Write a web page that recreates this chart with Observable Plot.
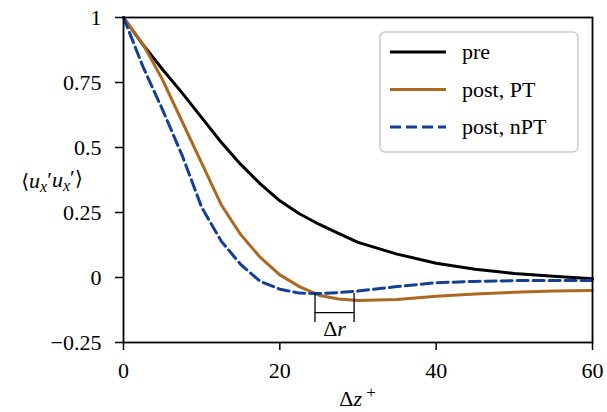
<!DOCTYPE html>
<html><head><meta charset="utf-8">
<script src="https://cdn.jsdelivr.net/npm/d3@7"></script>
<script src="https://cdn.jsdelivr.net/npm/@observablehq/plot@0.6"></script>
<style>
#chart svg text, #chart svg tspan { font-family: "Liberation Serif" !important; font-variant: normal !important; font-variant-numeric: normal !important; }
#chart svg tspan.sym { font-family: "DejaVu Sans" !important; }
</style>
</head><body style="margin:0;background:#fff;font-family:'Liberation Serif'"><div id="chart"></div>
<script>
// ---- data ----
const dz = [0,2.5,5,7.5,10,12.5,15,17.5,20,22.5,25,27.5,30,35,40,45,50,55,60];
const pre     = [1,0.895,0.80,0.71,0.615,0.52,0.435,0.36,0.295,0.245,0.205,0.17,0.135,0.09,0.055,0.032,0.015,0.005,-0.005];
const postPT  = [1,0.897,0.76,0.60,0.44,0.28,0.165,0.077,0.01,-0.035,-0.068,-0.083,-0.088,-0.085,-0.072,-0.063,-0.057,-0.052,-0.05];
const postNPT = [1,0.81,0.645,0.47,0.27,0.14,0.05,-0.015,-0.045,-0.06,-0.062,-0.058,-0.052,-0.035,-0.02,-0.015,-0.012,-0.012,-0.012];
const seriesNames = ["pre","post, PT","post, nPT"];
const seriesColors = ["#000000","#ad6820","#143f98"];
const yTicks = [-0.25,0,0.25,0.5,0.75,1];
const yTickLabels = ["\u22120.25","0","0.25","0.5","0.75","1"];
const xTicks = [0,20,40,60];
const xTickLabels = ["0","20","40","60"];
const drRange = [24.5, 29.5];   // Δr bracket in Δz+
const drY = [-0.062, -0.173, -0.135, -0.196]; // top, bottom, bar, label

const rows = [];
[pre, postPT, postNPT].forEach((arr, k) => dz.forEach((z, i) => rows.push({z, v: arr[i], series: seriesNames[k]})));

const FONT = "Liberation Serif";
const FS = 22;

const plot = Plot.plot({
  width: 607, height: 412,
  marginLeft: 123, marginRight: 15, marginTop: 17, marginBottom: 70,
  style: {fontFamily: FONT, fontSize: "22px"},
  x: {domain: [0, 60]},
  y: {domain: [-0.25, 1]},
  color: {domain: seriesNames, range: seriesColors},
  marks: [
    Plot.axisX({ticks: xTicks, tickFormat: d => xTickLabels[xTicks.indexOf(d)], tickSize: 8, tickPadding: 12, strokeWidth: 1.5, label: null, fontSize: FS, fontVariant: "normal"}),
    Plot.axisY({ticks: yTicks, tickFormat: d => yTickLabels[yTicks.indexOf(d)], tickSize: 8, tickPadding: 14, strokeWidth: 1.5, label: null, fontSize: FS, fontVariant: "normal"}),
    Plot.line(rows.filter(d => d.series === "pre"), {x: "z", y: "v", stroke: "series", strokeWidth: 3}),
    Plot.line(rows.filter(d => d.series === "post, PT"), {x: "z", y: "v", stroke: "series", strokeWidth: 3}),
    Plot.line(rows.filter(d => d.series === "post, nPT"), {x: "z", y: "v", stroke: "series", strokeWidth: 3, strokeDasharray: "11,5"}),
    Plot.ruleX(drRange, {y1: drY[0], y2: drY[1], stroke: "#000", strokeWidth: 1.3}),
    Plot.ruleY([drY[2]], {x1: drRange[0], x2: drRange[1], stroke: "#000", strokeWidth: 1.3}),
    Plot.text(["DR_LABEL"], {x: (drRange[0] + drRange[1]) / 2, y: drY[3], text: d => d, fontSize: FS, fill: "#000"}),
    Plot.frame({stroke: "#000", strokeWidth: 1.8})
  ]
});
document.getElementById("chart").appendChild(plot);

const svg = d3.select(plot);
svg.selectAll("text").attr("font-family", FONT);
svg.selectAll("text").filter(function(){ return this.textContent === "DR_LABEL"; }).each(function(){
  const t = d3.select(this); t.text("");
  t.append("tspan").text("\u0394");
  t.append("tspan").attr("font-style", "italic").text("r");
});

const W = 607, mL = 123, mR = 15;
const xl = svg.append("text").attr("x", (mL + W - mR) / 2).attr("y", 406).attr("text-anchor", "middle")
  .attr("font-family", FONT).attr("font-size", FS);
xl.append("tspan").text("\u0394");
xl.append("tspan").attr("font-style", "italic").text("z");
xl.append("tspan").attr("dy", "-0.45em").attr("font-size", 17).text(" +");

const yl = svg.append("text").attr("x", 52).attr("y", 188).attr("text-anchor", "middle")
  .attr("font-family", FONT).attr("font-size", FS);
yl.append("tspan").attr("class", "sym").attr("font-size", 20).text("\u27E8");
yl.append("tspan").attr("font-style", "italic").text("u");
yl.append("tspan").attr("font-style", "italic").attr("font-size", 16).attr("dy", "0.25em").text("x");
yl.append("tspan").attr("dy", "-0.25em").text("\u2032");
yl.append("tspan").attr("font-style", "italic").text("u");
yl.append("tspan").attr("font-style", "italic").attr("font-size", 16).attr("dy", "0.25em").text("x");
yl.append("tspan").attr("dy", "-0.25em").text("\u2032");
yl.append("tspan").attr("class", "sym").attr("font-size", 20).text("\u27E9");

const lg = svg.append("g");
lg.append("rect").attr("x", 380).attr("y", 32).attr("width", 198).attr("height", 120).attr("rx", 5)
  .attr("fill", "#fff").attr("fill-opacity", 0.85).attr("stroke", "#ccc").attr("stroke-width", 1.5);
seriesNames.forEach((name, i) => {
  const cy = 52 + i * 37.5;
  lg.append("line").attr("x1", 390).attr("x2", 446).attr("y1", cy).attr("y2", cy)
    .attr("stroke", seriesColors[i]).attr("stroke-width", 3)
    .attr("stroke-dasharray", i === 2 ? "11,5" : null);
  lg.append("text").attr("x", 462).attr("y", cy + 7).attr("text-anchor", "start")
    .attr("font-family", FONT).attr("font-size", FS).text(name);
});
</script>
</body></html>
